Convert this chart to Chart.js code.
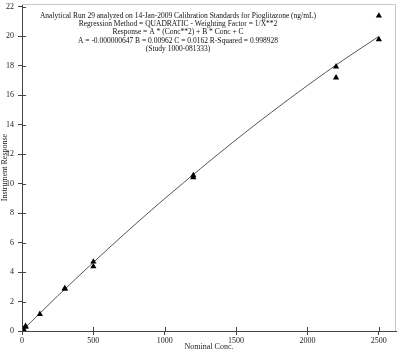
<!DOCTYPE html>
<html>
<head>
<meta charset="utf-8">
<script src="https://cdn.jsdelivr.net/npm/chart.js@4.4.1/dist/chart.umd.min.js"></script>
<style>
  html, body { margin: 0; padding: 0; background: #fff; }
  #wrap { width: 400px; height: 352px; position: relative; }
</style>
</head>
<body>
<div id="wrap"><canvas id="cal"></canvas></div>
<script>
// calibration standards (nominal conc vs instrument response)
const conc = [10, 10, 25, 25, 125, 300, 300, 500, 500, 1200, 1200, 2200, 2200, 2500, 2500];
const resp = [0.1, 0.13, 0.27, 0.33, 1.14, 2.85, 2.9, 4.38, 4.7, 10.42, 10.56, 17.2, 17.95, 19.8, 21.4];

// regression curve
const fitX = [10, 250, 500, 750, 1000, 1250, 1500, 1750, 2000, 2250, 2500];
const fitY = [0.11, 2.38, 4.66, 6.87, 8.99, 11.02, 12.99, 14.87, 16.67, 18.39, 20.0];

const xTicks = [0, 500, 1000, 1500, 2000, 2500];
const yTicks = [0, 2, 4, 6, 8, 10, 12, 14, 16, 18, 20, 22];

const titleLines = [
  'Analytical Run 29 analyzed on 14-Jan-2009 Calibration Standards for Pioglitazone (ng/mL)',
  'Regression Method = QUADRATIC - Weighting Factor = 1/X**2',
  'Response = A * (Conc**2) + B * Conc + C',
  'A = -0.000000647 B = 0.00962 C = 0.0162 R-Squared = 0.998928',
  '(Study 1000-081333)'
];

const FONT = '"Liberation Serif", "Times New Roman", serif';

// crossing tick marks, frame and header text
const extras = {
  id: 'extras',
  afterDraw(chart) {
    const ctx = chart.ctx;
    const a = chart.chartArea;
    const xs = chart.scales.x, ys = chart.scales.y;
    ctx.save();
    ctx.strokeStyle = '#c8c8c8';
    ctx.lineWidth = 1;
    ctx.beginPath();
    ctx.moveTo(a.left, a.top + 0.5);
    ctx.lineTo(a.right - 0.5, a.top + 0.5);
    ctx.lineTo(a.right - 0.5, a.bottom);
    ctx.stroke();

    ctx.strokeStyle = '#444';
    ctx.beginPath();
    xTicks.forEach(v => {
      const px = Math.round(xs.getPixelForValue(v)) + 0.5;
      ctx.moveTo(px, a.bottom - 4);
      ctx.lineTo(px, a.bottom);
    });
    yTicks.forEach(v => {
      const py = Math.round(ys.getPixelForValue(v)) + 0.5;
      ctx.moveTo(a.left, py);
      ctx.lineTo(a.left + 4, py);
    });
    ctx.stroke();

    ctx.fillStyle = '#111';
    ctx.font = '7.5px ' + FONT;
    ctx.textAlign = 'center';
    ctx.textBaseline = 'middle';
    titleLines.forEach((t, i) => ctx.fillText(t, 178, 16 + i * 8.2));
    ctx.restore();
  }
};

new Chart(document.getElementById('cal'), {
  type: 'scatter',
  data: {
    datasets: [
      {
        label: 'Standards',
        data: conc.map((c, i) => ({ x: c, y: resp[i] })),
        pointStyle: 'triangle',
        pointRadius: 3.6,
        backgroundColor: '#000',
        borderColor: '#000',
        borderWidth: 0
      },
      {
        label: 'Fit',
        data: fitX.map((c, i) => ({ x: c, y: fitY[i] })),
        showLine: true,
        pointRadius: 0,
        borderColor: '#555',
        borderWidth: 1,
        cubicInterpolationMode: 'monotone'
      }
    ]
  },
  plugins: [extras],
  options: {
    responsive: true,
    maintainAspectRatio: false,
    animation: false,
    layout: { padding: { top: 0, right: 1, bottom: 0, left: 0 } },
    plugins: {
      legend: { display: false },
      tooltip: { enabled: false }
    },
    scales: {
      x: {
        type: 'linear',
        min: 0,
        max: 2620,
        afterBuildTicks: s => { s.ticks = xTicks.map(v => ({ value: v })); },
        afterFit: s => { s.height = 21; s.paddingLeft = 0; s.paddingRight = 0; },
        grid: { drawOnChartArea: false, drawTicks: true, tickLength: 4, color: '#444' },
        border: { display: true, color: '#444', width: 1 },
        ticks: { color: '#222', font: { family: FONT, size: 8 }, padding: 1, maxRotation: 0, callback: v => String(v) },
        title: { display: true, text: 'Nominal Conc.', color: '#222', font: { family: FONT, size: 8 }, padding: { top: 0, bottom: 0 } }
      },
      y: {
        type: 'linear',
        min: 0,
        max: 22.2,
        afterBuildTicks: s => { s.ticks = yTicks.map(v => ({ value: v })); },
        afterFit: s => { s.width = 22; s.paddingTop = 0; s.paddingBottom = 0; },
        grid: { drawOnChartArea: false, drawTicks: true, tickLength: 4, color: '#444' },
        border: { display: true, color: '#444', width: 1 },
        ticks: { color: '#222', font: { family: FONT, size: 8 }, padding: 4, callback: v => String(v) },
        title: { display: true, text: 'Instrument Response', color: '#222', font: { family: FONT, size: 8 }, padding: { top: 0, bottom: 0 } }
      }
    }
  }
});
</script>
</body>
</html>
